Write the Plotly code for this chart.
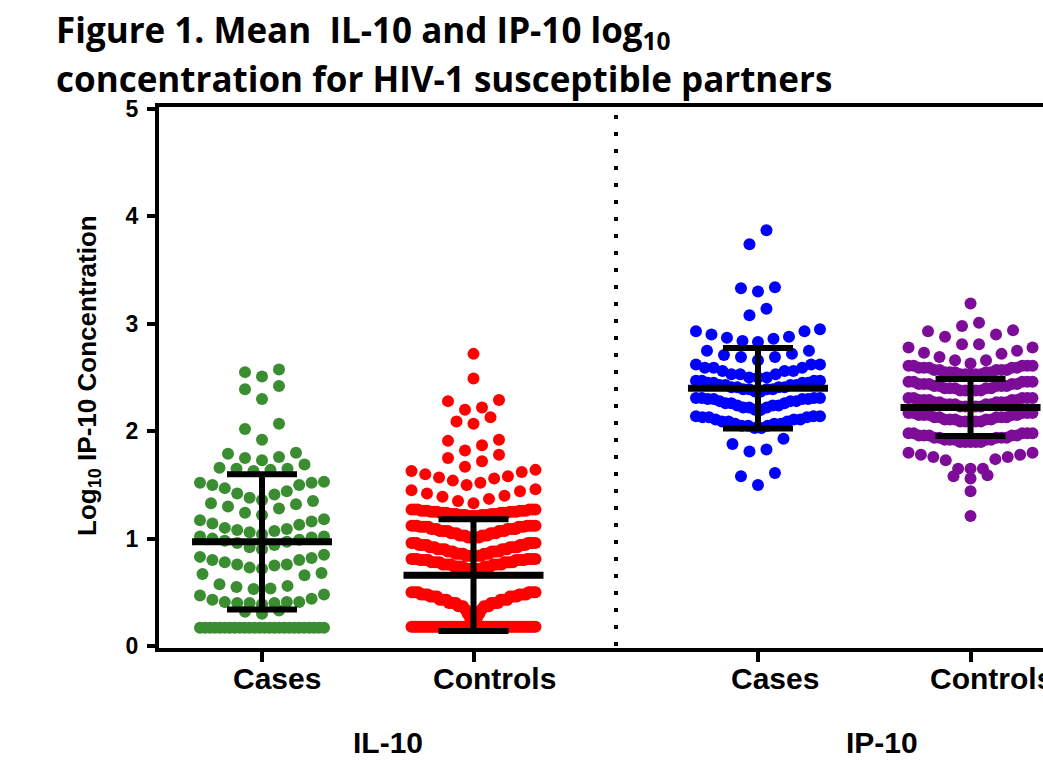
import numpy as np
import plotly.graph_objects as go

# ---------------- data (log10 concentrations) ----------------
categories = ["Cases", "Controls", "Cases", "Controls"]
cytokines = ["IL-10", "IP-10"]

il10_cases = (
    [2.51, 2.55, 2.575]
    + [2.30, 2.39, 2.42]
    + [1.92, 2.02, 2.07]
    + [1.73, 1.75, 1.76, 1.79, 1.80]
    + [1.63, 1.64, 1.65, 1.65, 1.66, 1.69]
    + [1.36, 1.38, 1.41, 1.42, 1.44, 1.47, 1.50, 1.50, 1.52, 1.52, 1.53]
    + [1.22, 1.24, 1.28, 1.30, 1.32, 1.33, 1.35]
    + [1.04, 1.06, 1.07, 1.08, 1.09, 1.10, 1.13, 1.14, 1.16, 1.17, 1.18]
    + [0.90, 0.92, 0.94, 0.96, 0.97, 0.98, 0.99, 1.00, 1.01, 1.02, 1.02]
    + [0.72, 0.73, 0.75, 0.76, 0.76, 0.78, 0.80, 0.80, 0.82, 0.83, 0.85]
    + [0.53, 0.535, 0.55, 0.56, 0.575, 0.66, 0.67, 0.68]
    + [0.39, 0.40, 0.40, 0.40, 0.41, 0.41, 0.41, 0.43, 0.44, 0.47, 0.48]
    + [0.30, 0.32, 0.33]
    + [0.17] * 26
)
il10_cases_bins = [0.25, 0.36, 0.50, 0.70, 0.88, 1.03, 1.20, 1.355, 1.58, 1.71, 1.85, 2.15, 2.47]

il10_controls = (
    [2.72]
    + [2.49]
    + [2.20, 2.22, 2.28, 2.29]
    + [2.07, 2.09, 2.13]
    + [1.82, 1.87, 1.91, 1.92]
    + [1.67, 1.72, 1.75, 1.78]
    + [1.50, 1.52, 1.54, 1.56, 1.57, 1.58, 1.60, 1.62, 1.63, 1.64]
    + [1.33, 1.35, 1.37, 1.39, 1.40, 1.42, 1.44, 1.45, 1.46]
    + [1.21] * 4 + [1.22] * 6 + [1.23] * 6 + [1.24] * 6 + [1.25] * 6 + [1.26] * 6 + [1.27] * 6
    + [1.01] * 5 + [1.03] * 6 + [1.05] * 6 + [1.07] * 7 + [1.09] * 7 + [1.11] * 7 + [1.12] * 7
    + [0.84] * 7 + [0.86] * 7 + [0.88] * 7 + [0.90] * 7 + [0.92] * 7 + [0.94] * 7 + [0.96] * 7
    + [0.72] * 7 + [0.74] * 7 + [0.76] * 8 + [0.78] * 8 + [0.80] * 8 + [0.81] * 7
    + [0.22] * 2 + [0.26] * 2 + [0.30] * 2 + [0.34] * 2 + [0.37] * 6
    + [0.40] * 8 + [0.43] * 8 + [0.46] * 8 + [0.48] * 8 + [0.50] * 8
    + [0.18] * 60
)
il10_controls_bins = [0.20, 0.60, 0.825, 0.98, 1.16, 1.30, 1.48, 1.655, 1.80, 2.00, 2.16, 2.40, 2.60]

ip10_cases = (
    [3.74, 3.87]
    + [3.30, 3.33, 3.34]
    + [3.08, 3.14]
    + [2.83, 2.84, 2.86, 2.87, 2.88, 2.90, 2.93, 2.93, 2.95]
    + [2.66, 2.69, 2.69, 2.71, 2.72, 2.75, 2.75]
    + [2.50] * 3 + [2.53] * 3 + [2.56] * 3 + [2.59] * 3 + [2.62] * 3
    + [2.37] * 2 + [2.39] * 4 + [2.41] * 4 + [2.43] * 4 + [2.45] * 4 + [2.47] * 4
    + [2.20] * 2 + [2.22] * 3 + [2.24] * 3 + [2.26] * 3 + [2.28] * 3 + [2.30] * 4 + [2.31] * 4
    + [2.03] * 2 + [2.05] * 3 + [2.07] * 3 + [2.09] * 3 + [2.11] * 3 + [2.13] * 3 + [2.14] * 3
    + [1.81, 1.83, 1.88, 1.93]
    + [1.50, 1.58, 1.61]
)
ip10_cases_bins = [1.70, 1.97, 2.17, 2.34, 2.485, 2.64, 2.79, 3.0, 3.2, 3.5]

ip10_controls = (
    [3.19]
    + [2.98, 3.01]
    + [2.81, 2.81, 2.88, 2.90, 2.93, 2.94]
    + [2.63, 2.66, 2.66, 2.69, 2.72, 2.73, 2.75, 2.78, 2.78]
    + [2.53] * 5 + [2.55] * 5 + [2.57] * 5 + [2.59] * 5 + [2.61] * 5
    + [2.38] * 5 + [2.40] * 5 + [2.42] * 5 + [2.44] * 5 + [2.46] * 5
    + [2.23] * 5 + [2.25] * 5 + [2.27] * 5 + [2.29] * 5 + [2.31] * 5
    + [2.09] * 5 + [2.11] * 5 + [2.13] * 5 + [2.15] * 5 + [2.17] * 5
    + [1.90] * 5 + [1.92] * 5 + [1.94] * 5 + [1.96] * 5 + [1.98] * 5
    + [1.65, 1.65, 1.65, 1.73, 1.74, 1.76, 1.76, 1.78, 1.78, 1.80, 1.80]
    + [1.56, 1.58, 1.59]
    + [1.44]
    + [1.21]
)
ip10_controls_bins = [1.30, 1.50, 1.62, 1.85, 2.03, 2.20, 2.34, 2.50, 2.62, 2.80, 2.96, 3.10]

group_mean = [0.97, 0.66, 2.40, 2.22]
group_sd = [0.63, 0.52, 0.375, 0.265]
y_ticks = [0, 1, 2, 3, 4, 5]

# ---------------- layout / style ----------------
x_pos = [1.0, 2.0, 3.345, 4.35]
colors = ["#3A8D30", "#FF0000", "#0000FF", "#7D0C98"]
PX_PER_X = 211.5      # pixels per x unit
S_NOM = 17.0          # nominal spacing between dots in a row (px)
HALF_W = 62.0         # max half width of a row (px)
DOT = 12

W, H = 1043, 761
PL, PR, PT, PB = 159, 0, 107, 113
plot_w = W - PL - PR
plot_h = H - PT - PB
x_lo = 1 - (262 - PL) / PX_PER_X
x_hi = 1 + (W - PR - 262) / PX_PER_X
y_lo = -(650 - (H - PB)) / 109.0
y_hi = 5 + (PT - 105) / 109.0


def px_x(px):
    return (px - PL) / plot_w


def px_y(py):
    return (H - PB - py) / plot_h


def swarm(vals, bins):
    y = np.asarray(vals, dtype=float)
    rows = np.digitize(y, bins)
    xs, ys = [], []
    for r in np.unique(rows):
        v = np.sort(y[rows == r])
        n = len(v)
        s = min(S_NOM, 2 * HALF_W / (n - 1)) if n > 1 else 0.0
        offs = (np.arange(n) - (n - 1) / 2.0) * s
        order = np.argsort(np.abs(offs), kind="stable")
        xs.extend(offs[order])
        ys.extend(v)
    return np.array(xs) / PX_PER_X, np.array(ys)


groups = [
    (il10_cases, il10_cases_bins),
    (il10_controls, il10_controls_bins),
    (ip10_cases, ip10_cases_bins),
    (ip10_controls, ip10_controls_bins),
]

fig = go.Figure()

for i, (vals, bins) in enumerate(groups):
    dx, yy = swarm(vals, bins)
    fig.add_trace(go.Scatter(
        x=x_pos[i] + dx, y=yy, mode="markers",
        marker=dict(size=DOT, color=colors[i], line=dict(width=0)),
        hoverinfo="skip", showlegend=False, cliponaxis=False))

MEAN_HALF = 70 / PX_PER_X
for i in range(4):
    fig.add_trace(go.Scatter(
        x=[x_pos[i]], y=[group_mean[i]], mode="markers",
        marker=dict(size=1, color="black"),
        error_y=dict(type="data", array=[group_sd[i]], color="black", thickness=6, width=35),
        hoverinfo="skip", showlegend=False, cliponaxis=False))
    fig.add_trace(go.Scatter(
        x=[x_pos[i] - MEAN_HALF, x_pos[i] + MEAN_HALF], y=[group_mean[i], group_mean[i]],
        mode="lines", line=dict(color="black", width=7),
        hoverinfo="skip", showlegend=False, cliponaxis=False))

ARIAL = "Liberation Sans, Arial, sans-serif"

fig.add_shape(type="line", xref="x", yref="y",
              x0=1 + (616 - 262) / PX_PER_X, x1=1 + (616 - 262) / PX_PER_X,
              y0=0, y1=5, line=dict(color="black", width=4, dash="4px,13px"))

annotations = []
shifts = [15, 21, 17, 21]
for i, c in enumerate(categories):
    annotations.append(dict(x=x_pos[i], y=px_y(678), xref="x", yref="paper", text=c,
                            showarrow=False, xanchor="center", yanchor="middle", xshift=shifts[i],
                            font=dict(family=ARIAL, size=30, color="black", weight="bold")))
for name, px in zip(cytokines, [388, 882]):
    annotations.append(dict(x=px_x(px), y=px_y(742), xref="paper", yref="paper", text=name,
                            showarrow=False, xanchor="center", yanchor="middle",
                            font=dict(family=ARIAL, size=30, color="black", weight="bold")))
annotations.append(dict(x=px_x(88), y=px_y(376), xref="paper", yref="paper",
                        text="Log<sub>10</sub> IP-10 Concentration", textangle=-90,
                        showarrow=False, xanchor="center", yanchor="middle",
                        font=dict(family=ARIAL, size=26, color="black", weight="bold")))
annotations.append(dict(x=px_x(54), y=px_y(31), xref="paper", yref="paper",
                        text="Figure 1. Mean \u00a0IL-10 and IP-10 log<sub>10</sub>",
                        showarrow=False, xanchor="left", yanchor="middle",
                        font=dict(family="Open Sans", size=35, color="black", weight="bold")))
annotations.append(dict(x=px_x(54), y=px_y(78), xref="paper", yref="paper",
                        text="concentration for HIV-1 susceptible partners",
                        showarrow=False, xanchor="left", yanchor="middle",
                        font=dict(family="Open Sans", size=35, color="black", weight="bold")))

fig.update_layout(
    width=W, height=H,
    margin=dict(l=PL, r=PR, t=PT, b=PB, pad=0),
    plot_bgcolor="white", paper_bgcolor="white",
    showlegend=False,
    annotations=annotations,
    xaxis=dict(range=[x_lo, x_hi], showgrid=False, zeroline=False,
               showline=True, linecolor="black", linewidth=4, mirror=True,
               ticks="outside", ticklen=10, tickwidth=4, tickcolor="black",
               tickvals=x_pos, showticklabels=False),
    yaxis=dict(range=[y_lo, y_hi], showgrid=False, zeroline=False,
               showline=True, linecolor="black", linewidth=4,
               ticks="outside", ticklen=8, tickwidth=4, tickcolor="black",
               tickvals=y_ticks, ticktext=[str(t) for t in y_ticks],
               ticklabelstandoff=4,
               tickfont=dict(family=ARIAL, size=23, color="black", weight="bold")),
)

fig.write_html(
    "out.html",
    config={"displayModeBar": False},
    post_script="document.body.style.margin='0';document.body.style.padding='0';"
                "document.documentElement.style.overflow='hidden';",
)
